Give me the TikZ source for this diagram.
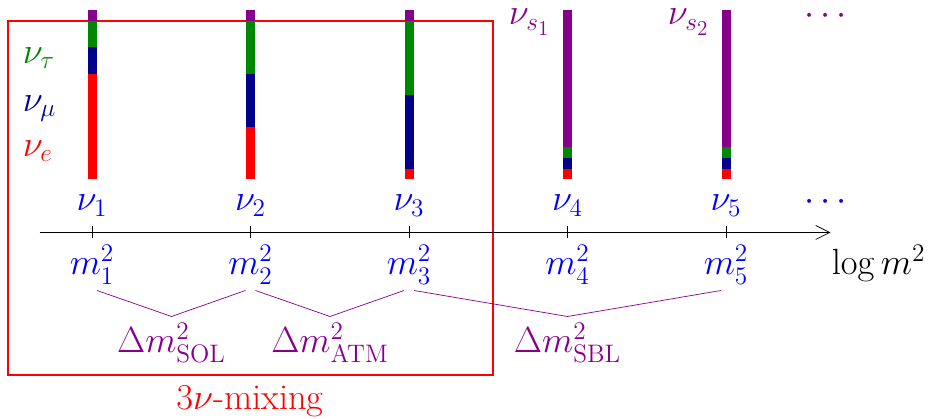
\documentclass[tikz,border=0pt]{standalone}
\usepackage{amsmath}
\usepackage{xcolor}
\usepackage{tikz}
\usetikzlibrary{arrows.meta}
\definecolor{nublue}{RGB}{0,0,140}
\definecolor{nugreen}{RGB}{0,135,0}
\definecolor{nupurple}{RGB}{135,0,140}

\begin{document}
\begin{tikzpicture}[font=\huge,every node/.style={inner sep=0pt},lbl/.style={anchor=base}]
\useasboundingbox (0,0) rectangle (18.62,8.38);
\draw[red,line width=1pt] (0.16,0.88) rectangle (9.86,7.96);
\node[red,lbl] (mix) at (5.0,0.18) {$3\nu$-mixing};
\foreach \x/\e/\m/\t [count=\i] in {1.84/6.90/7.43/7.96, 5.01/5.84/6.90/7.96, 8.18/4.99/6.47/7.96, 11.35/5.00/5.21/5.43, 14.52/5.00/5.21/5.43} {
  \fill[red] (\x-0.09,4.79) rectangle (\x+0.09,\e);
  \fill[nublue] (\x-0.09,\e) rectangle (\x+0.09,\m);
  \fill[nugreen] (\x-0.09,\m) rectangle (\x+0.09,\t);
  \fill[nupurple] (\x-0.09,\t) rectangle (\x+0.09,8.17);
  \node[blue,lbl] (nu\i) at (\x,4.16) {$\nu_\i$};
  \node[blue,lbl] (m\i) at (\x,2.88) {$m_\i^2$};
  \draw (\x,3.61) -- (\x,3.85);
}
\coordinate (o) at (0.79,3.73);
\coordinate (e) at (16.61,3.73);
\draw[-{Straight Barb[length=8pt,width=8pt]}] (o) -- (e);
\node[anchor=base west] (logm) at (16.63,2.88) {$\log m^2$};
\node[nugreen,anchor=base west] (nut) at (0.45,7.11) {$\nu_\tau$};
\node[nublue,anchor=base west] (num) at (0.45,6.15) {$\nu_\mu$};
\node[red,anchor=base west] (nue) at (0.45,5.25) {$\nu_e$};
\node[nupurple,lbl] (s1) at (10.59,7.88) {$\nu_{s_1}$};
\node[nupurple,lbl] (s2) at (13.77,7.88) {$\nu_{s_2}$};
\node[nupurple,lbl] (dt) at (16.57,7.88) {$\cdots$};
\node[blue,lbl] (db) at (16.57,4.16) {$\cdots$};
\node[nupurple,lbl] (sol) at (3.43,1.32) {$\Delta m^2_{\mathrm{SOL}}$};
\node[nupurple,lbl] (atm) at (6.60,1.32) {$\Delta m^2_{\mathrm{ATM}}$};
\node[nupurple,lbl] (sbl) at (11.35,1.32) {$\Delta m^2_{\mathrm{SBL}}$};
\foreach \a/\b/\d in {m1/m2/sol,m2/m3/atm,m3/m5/sbl}
  \draw[nupurple] ([shift={(0.1,-0.31)}]\a.base) -- ([yshift=0.73cm]\d.base) -- ([shift={(-0.1,-0.31)}]\b.base);
\end{tikzpicture}
\end{document}
